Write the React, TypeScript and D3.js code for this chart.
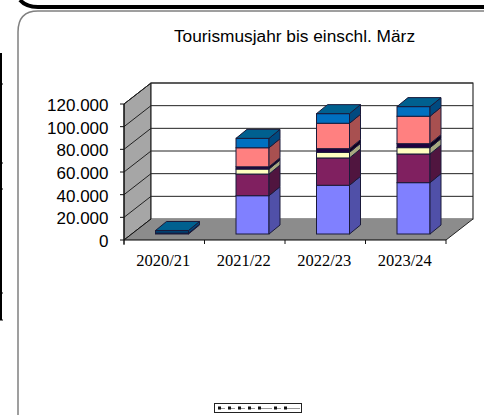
import React from "react";
import * as d3 from "d3";

const categories = ["2020/21", "2021/22", "2022/23", "2023/24"];
const seriesColors = ["#8080ff", "#802060", "#ffffc0", "#200040", "#ff8080", "#0070c0"];
const sideColors = ["#5050a8", "#50153f", "#a8a880", "#100020", "#a85050", "#004a80"];
const topColor = "#00608f";
const s1 = [0, 33800, 43000, 45300];
const s2 = [0, 19100, 24100, 25300];
const s3 = [0, 4400, 5000, 5600];
const s4 = [700, 2000, 3200, 3500];
const s5 = [0, 16800, 22400, 24200];
const s6 = [2400, 8300, 8500, 8500];
const series = [s1, s2, s3, s4, s5, s6];
const yTicks = [0, 20000, 40000, 60000, 80000, 100000, 120000];
const tickLabels = ["0", "20.000", "40.000", "60.000", "80.000", "100.000", "120.000"];

export default function App() {
  const x = d3.scaleBand<string>().domain(categories).range([124, 446]);
  const y = d3.scaleLinear().domain([0, 120000]).range([240, 104]);
  const dx = 27, dy = -21;
  const barW = 33, barOffX = 31.5, barDx = 11, barDy = -9, barBase = -6;
  const poly = (pts: [number, number][]) => pts.map((p) => p.join(",")).join(" ");
  const sansF = "Liberation Sans, Arial, sans-serif";
  const serifF = "Liberation Serif, Times New Roman, serif";
  const x0 = 124, x1 = 446;
  return (
    <svg width={484} height={415} style={{ position: "absolute", left: 0, top: 0, background: "#fff" }}>
      <line x1={1} x2={1} y1={53} y2={320} stroke="#000" strokeWidth={2} />
      {[84, 163, 189, 293, 320].map((t) => (
        <line key={t} x1={0} x2={3} y1={t} y2={t} stroke="#000" />
      ))}
      <path d="M20,0 Q26,7 38,7 L484,7" fill="none" stroke="#000" strokeWidth={4} />
      <path d="M18,415 L18,32 Q18,11 38,11 L484,11" fill="none" stroke="#808080" strokeWidth={1.5} />
      <text x={294.5} y={42} textAnchor="middle" fontFamily={sansF} fontSize={17.3}>Tourismusjahr bis einschl. März</text>

      <polygon points={poly([[x0, y(0)], [x0 + dx, y(0) + dy], [x0 + dx, y(120000) + dy], [x0, y(120000)]])} fill="#a6a6a6" stroke="#000" strokeWidth={1} />
      <polygon points={poly([[x0 + dx, y(0) + dy], [x1 + dx, y(0) + dy], [x1 + dx, y(120000) + dy], [x0 + dx, y(120000) + dy]])} fill="#fff" stroke="#333" strokeWidth={1.2} />
      <polygon points={poly([[x0, y(0)], [x1, y(0)], [x1 + dx, y(0) + dy], [x0 + dx, y(0) + dy]])} fill="#8c8c8c" />
      <line x1={x0} x2={x1} y1={y(0)} y2={y(0)} stroke="#000" strokeWidth={1.2} />
      <line x1={x1} x2={x1 + dx} y1={y(0)} y2={y(0) + dy} stroke="#222" />
      {yTicks.slice(1).map((t) => (
        <polyline key={t} points={poly([[x0, y(t)], [x0 + dx, y(t) + dy], [x1 + dx, y(t) + dy]])} fill="none" stroke="#222" strokeWidth={1} />
      ))}
      <line x1={x0} x2={x0 + dx} y1={y(0)} y2={y(0) + dy} stroke="#111" />
      <line x1={x0} x2={x0} y1={y(0) + 5} y2={y(120000)} stroke="#111" />
      {yTicks.map((t, i) => (
        <g key={t}>
          <line x1={x0 - 4} x2={x0} y1={y(t)} y2={y(t)} stroke="#111" />
          <text x={108.5} y={y(t) + 7} textAnchor="end" fontFamily={sansF} fontSize={17}>{tickLabels[i]}</text>
        </g>
      ))}
      {d3.range(categories.length + 1).map((i) => {
        const tx = x0 + (i * (x1 - x0)) / categories.length;
        return <line key={i} x1={tx} x2={tx} y1={y(0)} y2={y(0) + 4} stroke="#111" />;
      })}
      {categories.map((c) => (
        <text key={c} x={(x(c) as number) + x.bandwidth() / 2 - 1} y={266} textAnchor="middle" fontFamily={serifF} fontSize={16.5}>{c}</text>
      ))}

      {categories.map((c, ci) => {
        const left = (x(c) as number) + barOffX;
        let acc = 0;
        return (
          <g key={c}>
            {series.map((s, si) => {
              const v = s[ci];
              if (!v) return null;
              const yb = y(acc) + barBase;
              acc += v;
              const yt = y(acc) + barBase;
              const r = left + barW;
              const isTop = si === series.length - 1;
              return (
                <g key={si} stroke="#1a1a3a" strokeWidth={1}>
                  <rect x={left} y={yt} width={barW} height={yb - yt} fill={ci === 0 ? "#004070" : seriesColors[si]} />
                  <polygon points={poly([[r, yb], [r + barDx, yb + barDy], [r + barDx, yt + barDy], [r, yt]])} fill={sideColors[si]} />
                  {isTop && <polygon points={poly([[left, yt], [left + barDx, yt + barDy], [r + barDx, yt + barDy], [r, yt]])} fill={topColor} />}
                </g>
              );
            })}
          </g>
        );
      })}

      <rect x={214.5} y={403.5} width={87} height={9} fill="#fff" stroke="#222" />
      {[218, 228, 238, 248, 258, 274, 284].map((lx, i) => (
        <g key={i}>
          <rect x={lx} y={406.5} width={3} height={3} fill="#111" />
          <line x1={lx + 3} x2={lx + (i === 4 ? 14 : i === 6 ? 16 : 7)} y1={408.5} y2={408.5} stroke="#999" strokeWidth={1} />
        </g>
      ))}
    </svg>
  );
}
